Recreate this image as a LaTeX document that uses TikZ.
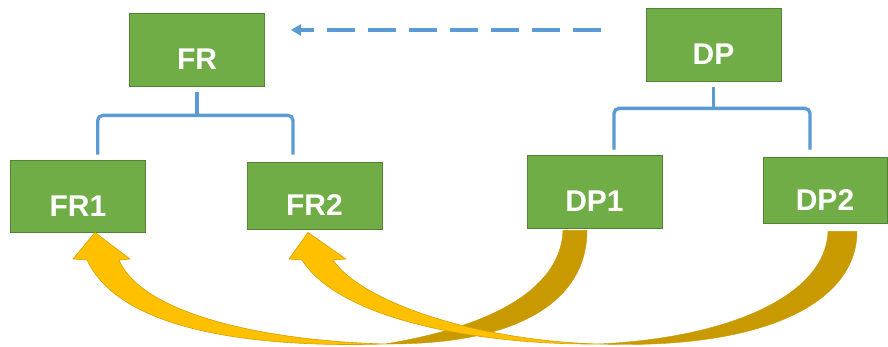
\documentclass[tikz,border=0pt]{standalone}
\usepackage{fontspec}
\setmainfont{Liberation Sans}
\usetikzlibrary{arrows.meta,calc}

\definecolor{boxgreen}{RGB}{112,173,71}
\definecolor{boxline}{RGB}{84,130,53}
\definecolor{treeblue}{RGB}{91,155,213}
\definecolor{gold}{RGB}{255,192,0}
\definecolor{darkgold}{RGB}{201,154,0}
\definecolor{goldline}{RGB}{214,160,0}

\tikzset{
  box/.style={draw=boxline, line width=0.8pt, fill=boxgreen, text=white,
    font=\fontsize{30}{36}\selectfont\bfseries,
    text height=40.5pt, text depth=0pt,
    minimum width=135pt, minimum height=73pt, inner sep=0pt},
  tree/.style={draw=treeblue, line width=3.3pt, rounded corners=5pt},
  hint/.style={draw=treeblue, line width=4pt, dash pattern=on 28pt off 13pt,
    -{Triangle[length=10pt,width=11pt]}},
  back/.style={fill=darkgold, draw=darkgold, line width=0.4pt},
  front/.style={fill=gold, draw=goldline, line width=0.6pt, line join=round}
}

\begin{document}
\begin{tikzpicture}[x=1pt, y=-1pt]
  \useasboundingbox (0,0) rectangle (888,347);

  \node (fr)  [box] at (197,49.5)    {FR};
  \node (dp)  [box] at (713.5,44.5)  {DP};
  \node (fr1) [box, minimum height=72pt] at (78,196) {FR1};
  \node (fr2) [box, minimum height=67pt] at (314.5,195.5) {FR2};
  \node (dp1) [box] at (594.5,191.5) {DP1};
  \node (dp2) [box, minimum width=124pt, minimum height=66pt] at (825,190) {DP2};

  % trees
  \draw [tree] ($(fr.south)+(0,6)$) -- ($(fr.south)+(0,29)$);
  \draw [tree] ($(fr1.north)+(19.7,-5)$) |- ($(fr.south)+(0,29)$) -| ($(fr2.north)+(-21.5,-7)$);
  \draw [tree] ($(dp.south)+(0,6)$) -- ($(dp.south)+(0,27)$);
  \draw [tree] ($(dp1.north)+(19.5,-5)$) |- ($(dp.south)+(0,27)$) -| ($(dp2.north)+(-15,-7)$);

  % dashed hint
  \draw [hint] ($(dp.west)+(-45,-14.5)$) -- ($(fr.east)+(26,-19.5)$);

  % DP1 -> FR1
  \filldraw [back] ($(dp1.south)+(-31.5,2)$) .. controls (561,285) and (500,325) .. (385,344)
    .. controls (520,345) and (587,300) .. ($(dp1.south)+(-7.5,2)$) -- cycle;
  \filldraw [front] (385,344) .. controls (250,348) and (120,330) .. (87,260)
    -- (73,259) -- ($(fr1.south)+(17,0)$) -- (130,259) -- (119,260)
    .. controls (140,310) and (250,340) .. (385,344) -- cycle;

  % DP2 -> FR2
  \filldraw [back] ($(dp2.south)+(3,8)$) .. controls (826,295) and (730,338) .. (598,344)
    .. controls (770,350) and (857,300) .. ($(dp2.south)+(32,8)$) -- cycle;
  \filldraw [front] (598,344) .. controls (480,345) and (340,320) .. (302,260)
    -- (289,259) -- ($(fr2.south)+(-6.5,3)$) -- (346,259) -- (333,260)
    .. controls (360,300) and (470,340) .. (598,344) -- cycle;
\end{tikzpicture}
\end{document}
